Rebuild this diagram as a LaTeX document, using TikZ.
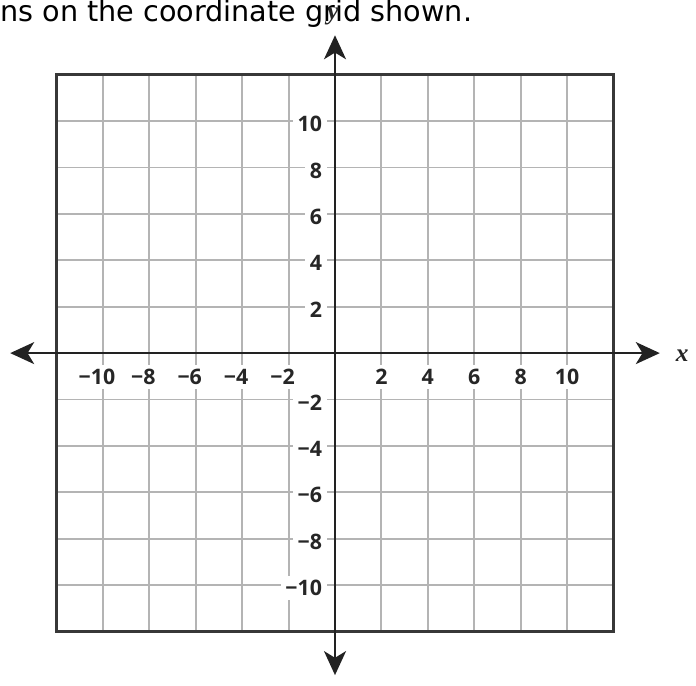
\documentclass[tikz,border=0pt]{standalone}
\usepackage{fontspec}
\newfontfamily\consfont{DejaVu Sans}
\newfontfamily\gradfont{Open Sans}
\newfontfamily\varfont{Liberation Serif}
\usetikzlibrary{arrows.meta}
\definecolor{gridgray}{HTML}{B4B4B4}
\definecolor{axisdark}{HTML}{222222}
\tikzset{
  gridline/.style={gridgray, line width=1.4pt},
  gridframe/.style={draw=black!78, line width=2pt},
  axisline/.style={axisdark, line width=1.5pt,
    {Stealth[length=18pt, width=16.5pt, inset=5pt]}-{Stealth[length=18pt, width=16.5pt, inset=5pt]}},
  gradlabel/.style={fill=white, inner xsep=3.5pt, inner ysep=3pt, text=black!85,
    font=\gradfont\bfseries\fontsize{16}{19}\selectfont},
  varlabel/.style={inner sep=0pt, text=black!85,
    font=\varfont\bfseries\itshape\fontsize{19}{22}\selectfont},
}
\begin{document}
\begin{tikzpicture}[x=17.4pt, y=17.4pt]
    \useasboundingbox (-14.44,-14.31) rectangle (15.56,15.22);

    % Consigne
    \node[font=\consfont\fontsize{21.5}{25}\selectfont, anchor=base west, inner sep=0pt]
        (consigne) at (-14.44,14.31) {ns on the coordinate grid shown.};

    % Grille
    \draw[gridline, step=2] (-12,-12) grid (12,12);
    \draw[gridframe] (-12,-12) rectangle (12,12);

    % Graduations
    \foreach \v in {2,4,...,10} {
        \node[gradlabel] (xp\v) at (\v,-1.03) {\v};
        \node[gradlabel] (xn\v) at (-\v,-1.03) {\llap{−}\v};
        \node[gradlabel, anchor=east] (yp\v) at (-0.35,\v-0.13) {\v};
        \node[gradlabel, anchor=east] (yn\v) at (-0.35,-\v-0.13) {−\v};
    }

    % Axes
    \coordinate (xmin) at (-14,0);
    \coordinate (xmax) at (14,0);
    \coordinate (ymin) at (0,-13.88);
    \coordinate (ymax) at (0,13.7);
    \draw[axisline] (xmin) -- (xmax);
    \draw[axisline] (ymin) -- (ymax);
    \node[varlabel] (xlab) at (14.96,-0.09) {x};
    \node[varlabel] (ylab) at (-0.09,14.5) {y};
\end{tikzpicture}
\end{document}
